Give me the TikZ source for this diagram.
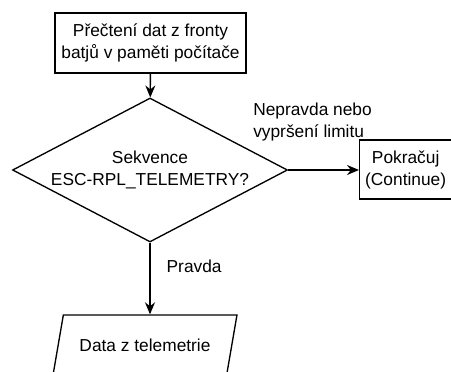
\documentclass[tikz,border=0pt]{standalone}
\usepackage{fontspec}
\setmainfont{Liberation Sans}
\usetikzlibrary{arrows.meta,positioning,shapes.geometric}

\begin{document}
\begin{tikzpicture}[
  x=0.75pt, y=0.75pt,
  font=\fontsize{13}{16.5}\selectfont,
  box/.style={draw, line width=1pt, align=center, inner sep=0pt},
  lbl/.style={inner sep=0pt, align=left},
  flow/.style={-{Stealth[length=9pt,width=7.5pt]}, line width=1pt}
]
\useasboundingbox (0,0) rectangle (451,372);
\clip (0,0) rectangle (451,372);
% px -> pt: 0.75
\node[box, minimum width=143.25pt, minimum height=45pt] (fronta) at (150.5,329)
  {Přečtení dat z fronty\\batjů v paměti počítače};
\node[box, diamond, aspect=1.9, minimum width=206.25pt, minimum height=108pt] (dotaz) at (150,202)
  {Sekvence\\ESC-RPL\_TELEMETRY?};
\node[box, anchor=west, minimum height=44.25pt] (pokracuj) at (359,202.5)
  {\makebox[69pt]{\parbox{69pt}{\centering Pokračuj\\(Continue)}}\hspace{40pt}};
\node[box, trapezium, trapezium left angle=57, trapezium right angle=123,
  trapezium stretches=true, minimum width=138pt, minimum height=45pt] (data) at (145,27)
  {Data z telemetrie};

\draw[flow] (fronta) -- (dotaz);
\draw[flow] (dotaz.east) -- (dotaz.east -| pokracuj.west);
\draw[flow] (dotaz.south) -- (dotaz.south |- data.north)
  node[lbl, pos=0.33, anchor=west, xshift=12pt] {Pravda};
\node[lbl, anchor=west] (nepravda) at (253,250) {Nepravda nebo\\vypršení limitu};
\end{tikzpicture}
\end{document}
